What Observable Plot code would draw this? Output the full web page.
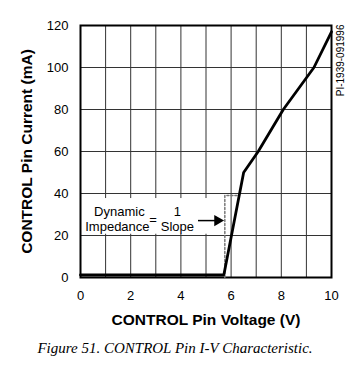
<!DOCTYPE html>
<html>
<head>
<meta charset="utf-8">
<script src="https://cdn.jsdelivr.net/npm/d3@7"></script>
<script src="https://cdn.jsdelivr.net/npm/@observablehq/plot@0.6"></script>
<style>
  html, body { margin: 0; padding: 0; background: #fff; }
  #chart svg { display: block; }
</style>
</head>
<body>
<div id="chart"></div>
<script>
// Curve
const voltage = [0, 5.71, 6.5, 7.08, 8.08, 9.3, 10];
const current = [1.2, 1.2, 50, 60, 80, 100, 117];

// Dashed slope marker
const markerV = [5.75, 5.75, 6.25];
const markerI = [0, 39, 39];

// Axis ticks
const xTicks = [0, 2, 4, 6, 8, 10];
const xGrid = [0, 1, 2, 3, 4, 5, 6, 7, 8, 9, 10];
const yTicks = [0, 20, 40, 60, 80, 100, 120];

const xLabel = "CONTROL Pin Voltage (V)";
const yLabel = "CONTROL Pin Current (mA)";
const caption = "Figure 51. CONTROL Pin I-V Characteristic.";
const docId = "PI-1939-091996";

const curve = voltage.map((v, i) => ({v, i: current[i]}));
const marker = markerV.map((v, i) => ({v, i: markerI[i]}));

const font = "'Liberation Sans', Arial, Helvetica, sans-serif";

const chart = Plot.plot({
  width: 356,
  height: 367,
  marginLeft: 80,
  marginRight: 25,
  marginTop: 25,
  marginBottom: 90,
  style: {fontFamily: font, fontSize: "13px", color: "#000", background: "#fff"},
  x: {domain: [0, 10]},
  y: {domain: [0, 120]},
  marks: [
    Plot.ruleX(xGrid, {stroke: "#333", strokeWidth: 1}),
    Plot.ruleY(yTicks, {stroke: "#333", strokeWidth: 1}),
    // white box behind the annotation
    Plot.rect([0], {x1: 0, x2: 5.57, y1: 20.6, y2: 37.6, fill: "#fff"}),
    Plot.frame({stroke: "#000", strokeWidth: 2}),
    Plot.line(marker, {x: "v", y: "i", stroke: "#777", strokeWidth: 1.5, strokeDasharray: "2,2"}),
    Plot.line(curve, {x: "v", y: "i", stroke: "#000", strokeWidth: 2.8, strokeLinejoin: "miter"}),
    Plot.axisX(xTicks, {tickSize: 0, tickPadding: 13, fontSize: 13, label: null}),
    Plot.axisY(yTicks, {tickSize: 0, tickPadding: 12, fontSize: 13, label: null}),
    // annotation
    Plot.text(["Dynamic"], {x: 1.55, y: 31.4, fontSize: 13}),
    Plot.text(["Impedance"], {x: 1.47, y: 24.2, fontSize: 13}),
    Plot.text(["="], {x: 2.89, y: 27.6, fontSize: 13}),
    Plot.text(["1"], {x: 3.86, y: 31.4, fontSize: 13}),
    Plot.text(["Slope"], {x: 3.86, y: 24.2, fontSize: 13}),
    Plot.ruleY([27.1], {x1: 4.7, x2: 5.4, stroke: "#000", strokeWidth: 1.5}),
    Plot.dot([0], {x: 5.46, y: 27.1, symbol: "triangle", r: 4.2, fill: "#000", stroke: "none", rotate: 90}),
    // axis titles
    Plot.text([xLabel], {frameAnchor: "bottom", dy: 43, lineAnchor: "middle", textAnchor: "middle", fontSize: 15.5, fontWeight: "bold"}),
    Plot.text([yLabel], {frameAnchor: "left", dx: -53, rotate: -90, textAnchor: "middle", lineAnchor: "middle", fontSize: 15.5, fontWeight: "bold"}),
    Plot.text([docId], {frameAnchor: "top-right", dx: 9, dy: -1, rotate: -90, textAnchor: "end", lineAnchor: "middle", fontSize: 10}),
    Plot.text([caption], {frameAnchor: "bottom", dx: -31, dy: 71, lineAnchor: "middle", textAnchor: "middle", fontSize: 15, fontStyle: "italic", fontFamily: "'Liberation Serif', 'Times New Roman', serif"})
  ]
});
document.getElementById("chart").appendChild(chart);
</script>
</body>
</html>
